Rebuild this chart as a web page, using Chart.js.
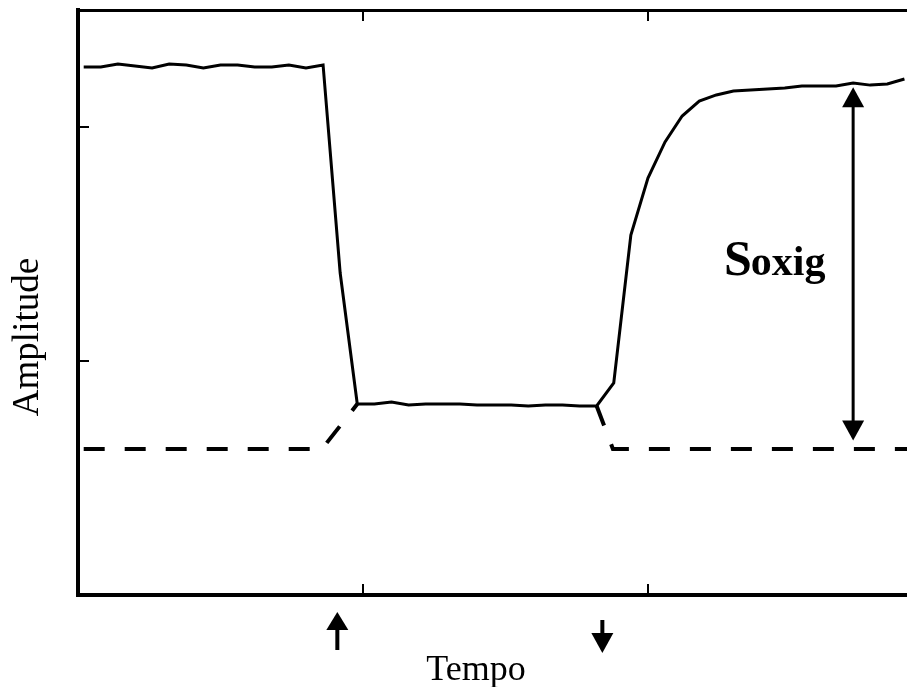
<!DOCTYPE html>
<html>
<head>
<meta charset="utf-8">
<title>Amplitude / Tempo</title>
<script src="https://cdn.jsdelivr.net/npm/chart.js@4.4.1/dist/chart.umd.min.js"></script>
<style>
  html, body { margin: 0; padding: 0; background: #fff; overflow: hidden; }
  #wrap { width: 907px; height: 687px; position: relative; }
</style>
</head>
<body>
<div id="wrap"><canvas id="chart"></canvas></div>
<script>
// sample times of the recorded signal
const times = [2, 8, 14, 20, 26, 32, 38, 44, 50, 56, 62, 68, 74, 80, 86, 92, 98,
  104, 110, 116, 122, 128, 134, 140, 146, 152, 158, 164, 170, 176, 182, 188, 194,
  200, 206, 212, 218, 224, 230, 236, 242, 248, 254, 260, 266, 272, 278, 284, 290];

// amplitude of the signal at each sample
const amplitude = [2.256, 2.256, 2.269, 2.261, 2.252, 2.269, 2.265, 2.252, 2.265,
  2.265, 2.256, 2.256, 2.265, 2.252, 2.265, 1.376, 0.816, 0.816, 0.825, 0.812,
  0.816, 0.816, 0.816, 0.812, 0.812, 0.812, 0.808, 0.812, 0.812, 0.808, 0.808,
  0.906, 1.538, 1.782, 1.936, 2.047, 2.111, 2.137, 2.154, 2.158, 2.162, 2.167,
  2.175, 2.175, 2.175, 2.188, 2.179, 2.184, 2.205];

// dashed baseline (gap while the signal sits low)
const baseTimes = [2, 85.6, 98, null, 182, 187.7, 290.9];
const baseLevel = [0.624, 0.624, 0.816, null, 0.808, 0.624, 0.624];

// on / off events marked under the time axis
const eventTimes = [91, 184];

// Soxig span: from upper level down to baseline
const soxigTime = 272;
const soxigRange = [2.17, 0.66];

const xTicks = [100, 200];
const yTicks = [1, 2];

const signalPoints = times.map((t, i) => ({ x: t, y: amplitude[i] }));
const basePoints = baseTimes.map((t, i) => t === null ? { x: null, y: null } : { x: t, y: baseLevel[i] });

function arrowHead(ctx, x, y, dir, w, h) {
  // dir = -1 points up, 1 points down
  ctx.beginPath();
  ctx.moveTo(x, y);
  ctx.lineTo(x - w / 2, y - dir * h);
  ctx.lineTo(x + w / 2, y - dir * h);
  ctx.closePath();
  ctx.fill();
}

const decorations = {
  id: 'decorations',
  afterDraw(chart) {
    const ctx = chart.ctx;
    const area = chart.chartArea;
    const x = chart.scales.x;
    const y = chart.scales.y;
    ctx.save();
    ctx.strokeStyle = '#000';
    ctx.fillStyle = '#000';

    // inward tick marks
    ctx.lineWidth = 2;
    ctx.beginPath();
    xTicks.forEach(v => {
      const px = Math.round(x.getPixelForValue(v));
      ctx.moveTo(px, area.bottom);
      ctx.lineTo(px, area.bottom - 11);
      ctx.moveTo(px, area.top);
      ctx.lineTo(px, area.top + 11);
    });
    yTicks.forEach(v => {
      const py = Math.round(y.getPixelForValue(v));
      ctx.moveTo(area.left, py);
      ctx.lineTo(area.left + 11, py);
    });
    ctx.stroke();

    // event arrows below the axis
    ctx.lineWidth = 4;
    eventTimes.forEach((t, i) => {
      const px = x.getPixelForValue(t);
      if (i === 0) {
        const tip = area.bottom + 17;
        ctx.beginPath();
        ctx.moveTo(px, tip + 16);
        ctx.lineTo(px, area.bottom + 55);
        ctx.stroke();
        arrowHead(ctx, px, tip, -1, 22, 18);
      } else {
        const tip = area.bottom + 58;
        ctx.beginPath();
        ctx.moveTo(px, area.bottom + 25);
        ctx.lineTo(px, tip - 18);
        ctx.stroke();
        arrowHead(ctx, px, tip, 1, 22, 20);
      }
    });

    // Soxig double arrow
    ctx.lineWidth = 3;
    const sx = x.getPixelForValue(soxigTime);
    const top = y.getPixelForValue(soxigRange[0]);
    const bot = y.getPixelForValue(soxigRange[1]);
    ctx.beginPath();
    ctx.moveTo(sx, top + 15);
    ctx.lineTo(sx, bot - 15);
    ctx.stroke();
    arrowHead(ctx, sx, top, -1, 22, 20);
    arrowHead(ctx, sx, bot, 1, 22, 20);

    // labels
    ctx.textBaseline = 'alphabetic';
    ctx.textAlign = 'left';
    ctx.font = 'bold 50px "Liberation Serif"';
    ctx.fillText('S', 724, 275);
    const sw = ctx.measureText('S').width;
    ctx.font = 'bold 42px "Liberation Serif"';
    ctx.fillText('oxig', 723 + sw, 275);

    ctx.font = '36px "Liberation Serif"';
    ctx.textAlign = 'center';
    ctx.fillText('Tempo', 476, 680);

    ctx.save();
    ctx.translate(38, 337);
    ctx.rotate(-Math.PI / 2);
    ctx.font = '37px "Liberation Serif"';
    ctx.fillText('Amplitude', 0, 0);
    ctx.restore();

    ctx.restore();
  }
};

const hiddenTicks = { display: false };
const noGrid = { display: false, drawTicks: false };

new Chart(document.getElementById('chart'), {
  type: 'line',
  data: {
    datasets: [
      {
        data: signalPoints,
        borderColor: '#000',
        borderWidth: 3,
        pointRadius: 0,
        tension: 0,
        fill: false
      },
      {
        data: basePoints,
        borderColor: '#000',
        borderWidth: 4,
        borderDash: [21, 20],
        pointRadius: 0,
        tension: 0,
        spanGaps: false,
        fill: false
      }
    ]
  },
  options: {
    responsive: true,
    maintainAspectRatio: false,
    animation: false,
    layout: { padding: { left: 78, right: 0, top: 10, bottom: 92 } },
    plugins: {
      legend: { display: false },
      tooltip: { enabled: false },
      title: { display: false }
    },
    scales: {
      x: {
        type: 'linear',
        position: 'bottom',
        min: 0,
        max: 290.9,
        ticks: hiddenTicks,
        grid: noGrid,
        border: { display: true, color: '#000', width: 4 }
      },
      xTop: {
        type: 'linear',
        position: 'top',
        min: 0,
        max: 290.9,
        ticks: hiddenTicks,
        grid: noGrid,
        border: { display: true, color: '#000', width: 3 }
      },
      y: {
        type: 'linear',
        position: 'left',
        min: 0,
        max: 2.5,
        ticks: hiddenTicks,
        grid: noGrid,
        border: { display: true, color: '#000', width: 4 }
      }
    }
  },
  plugins: [decorations]
});
</script>
</body>
</html>
